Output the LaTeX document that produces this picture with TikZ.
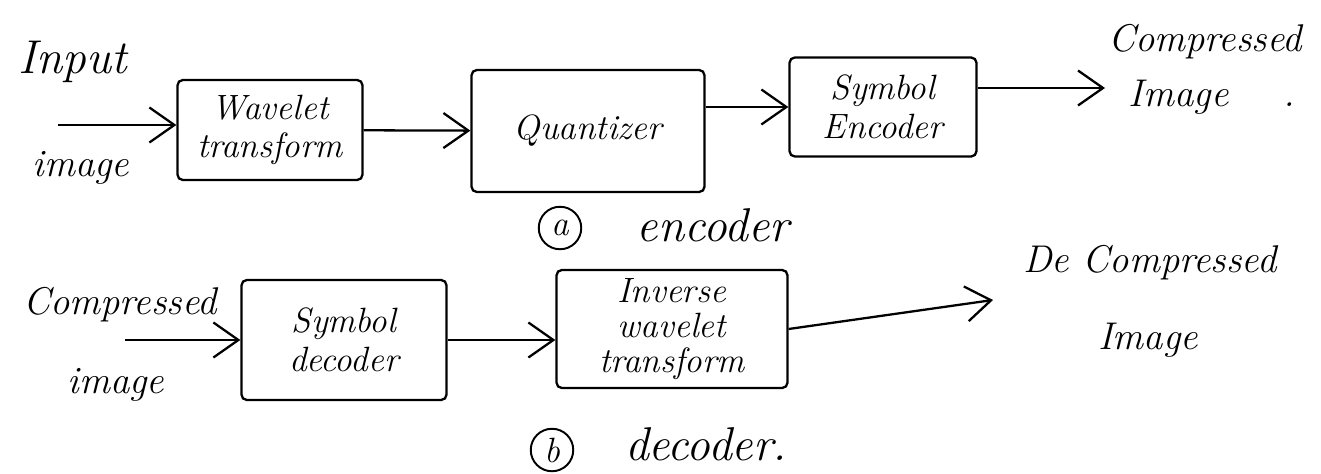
\documentclass[tikz,border=0pt]{standalone}
\usepackage{tikz}
\usetikzlibrary{arrows.meta, positioning, calc}
\tikzset{
  block/.style={rectangle, draw=black, line width=1.3pt, rounded corners=3pt, align=center, inner sep=2pt, font=\fontsize{20}{22}\selectfont\itshape},
  lbl/.style={align=center, font=\fontsize{22}{24}\selectfont\itshape},
  biglbl/.style={align=center, font=\fontsize{27}{29}\selectfont\itshape},
  tag/.style={circle, draw=black, line width=1.1pt, inner sep=1pt, minimum size=0.85cm, font=\fontsize{20}{22}\selectfont\itshape},
  arrow/.style={line width=1.3pt, -{Straight Barb[length=5mm, width=7mm]}, color=black}
}
\begin{document}
\begin{tikzpicture}[x=0.02cm, y=-0.02cm]
    \useasboundingbox (0,0) rectangle (1321,473);
    % Encoder row
    \node[biglbl] (input) at (73,62) {Input};
    \node[lbl] (inimg) at (81,168) {image};
    \node[block, minimum width=3.7cm, minimum height=2cm] (wave) at (270,130) {Wavelet\\transform};
    \node[block, minimum width=4.66cm, minimum height=2.44cm] (quant) at (588,131) {Quantizer};
    \node[block, minimum width=3.74cm, minimum height=1.98cm] (enc) at (883,107) {Symbol\\Encoder};
    \node[lbl] (cmp) at (1205,42) {Compressed};
    \node[lbl] (cmpimg) at (1212,97) {Image\hspace{1.1cm}.};
    \node[tag] (taga) at (560,228) {a};
    \node[biglbl] (enclbl) at (713,225) {encoder};

    % Decoder row
    \node[lbl] (cmp2) at (120,305) {Compressed};
    \node[lbl] (img2) at (116,385) {image};
    \node[block, minimum width=4.1cm, minimum height=2.4cm] (dec) at (344,340) {Symbol\\decoder};
    \node[block, minimum width=4.62cm, minimum height=2.36cm, font=\fontsize{20}{20}\selectfont\itshape] (inv) at (672,329) {Inverse\\wavelet\\transform};
    \node[lbl] (dcmp) at (1150,263) {De Compressed};
    \node[lbl] (dimg) at (1148,340) {Image};
    \node[tag] (tagb) at (552,450) {b};
    \node[biglbl] (declbl) at (706,444) {decoder.};

    % Free ends of the arrows
    \coordinate (inA) at (58,125);
    \coordinate (outA) at (1105,88);
    \coordinate (inB) at (125,340);
    \coordinate (outB) at (993,300);

    % Drawing arrows
    \draw[arrow] (inA) -- (inA -| wave.west);
    \draw[arrow] (wave) -- (quant);
    \draw[arrow] (quant.east |- enc) -- (enc);
    \draw[arrow] (enc.east |- outA) -- (outA);
    \draw[arrow] (inB) -- (inB -| dec.west);
    \draw[arrow] (dec) -- (dec -| inv.west);
    \draw[arrow] (inv.east) -- (outB);
\end{tikzpicture}
\end{document}
